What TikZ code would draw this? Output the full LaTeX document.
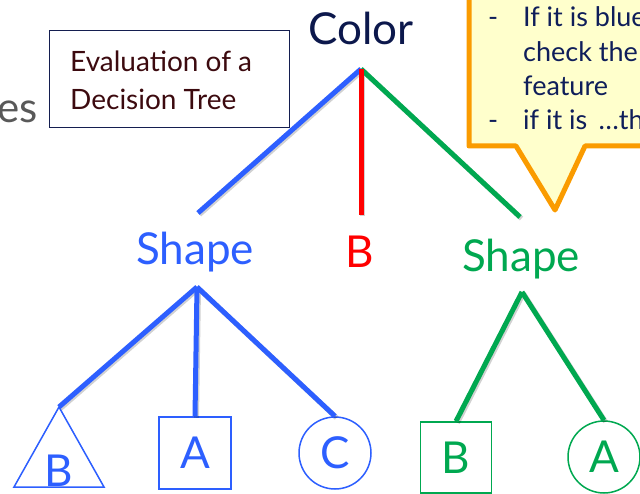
\documentclass[tikz,border=0pt]{standalone}
\usepackage{fontspec}
\setmainfont{Lato}
\definecolor{cnavy}{RGB}{12,24,76}
\definecolor{cblue}{RGB}{45,95,255}
\definecolor{cred}{RGB}{255,0,0}
\definecolor{cgreen}{RGB}{0,168,80}
\definecolor{corange}{RGB}{250,155,0}
\definecolor{cyellow}{RGB}{255,255,204}
\definecolor{cboxline}{RGB}{20,30,80}
\definecolor{cmaroon}{RGB}{60,10,15}
\definecolor{ctext}{RGB}{15,30,90}
\definecolor{cgray}{RGB}{89,89,89}
\begin{document}
\begin{tikzpicture}[x=1pt,y=-1pt,
  big/.style={inner sep=0pt, anchor=base, font=\fontsize{44}{50}\selectfont},
  leafsq/.style={draw, line width=1.5pt, inner sep=0pt, minimum size=72pt, font=\fontsize{44}{50}\selectfont},
  leafci/.style={circle, draw, line width=1.5pt, inner sep=0pt, minimum size=72pt, font=\fontsize{44}{50}\selectfont},
  edge/.style={line width=5pt},
  shd/.style={line width=5pt, draw=black, opacity=0.18, transform canvas={shift={(1.5pt,-1.5pt)}}},
  note/.style={inner sep=0pt, anchor=base west, text=ctext, font=\fontsize{27}{32}\selectfont},
]
\useasboundingbox (0,0) rectangle (640,494);
\clip (0,0) rectangle (640,494);

% left fragment
\node[inner sep=0pt, anchor=base east, text=cgray, font=\fontsize{42}{50}\selectfont] (es) at (38,123) {es};

% title box
\node[draw=cboxline, line width=1pt, minimum width=240pt, minimum height=97pt, inner sep=0pt] (evalbox) at (169,79.5) {};
\node[inner sep=0pt, anchor=base west, text=cmaroon, font=\fontsize{28}{34}\selectfont] (eval1) at (70,72) {Evaluation of a};
\node[inner sep=0pt, anchor=base west, text=cmaroon, font=\fontsize{28}{34}\selectfont] (eval2) at (70,110) {Decision Tree};

% callout
\draw[line width=5pt, draw=corange, fill=cyellow, line join=round] (469,-20) -- (469,146) -- (516,146) -- (555,210) -- (585,146) -- (660,146) -- (660,-20) -- cycle;
\node[note] (d1) at (488,27) {-};
\node[note] (n1) at (523,27) {If it is blue, then};
\node[note] (n2) at (523,61.5) {check the shape};
\node[note] (n3) at (523,96) {feature};
\node[note] (d2) at (488,130) {-};
\node[note] (n4) at (523,130) {if it is \,\dots then};

% tree labels
\node[big, text=cnavy] (color) at (361,45) {Color};
\node[big, text=cblue] (shapeB) at (195,265) {Shape};
\node[big, text=cred] (redB) at (360,268) {B};
\node[big, text=cgreen] (shapeG) at (521,272) {Shape};

\coordinate (cj) at (361,69);
\coordinate (bsT) at (198,213);
\coordinate (rB) at (361,215);
\coordinate (gsT) at (520,217);
\coordinate (bsB) at (197,287);
\coordinate (gsB) at (522,292);
\coordinate (tri) at (59,407);

% leaves
\draw[cblue, line width=1.5pt, line join=miter] (tri) -- (14,487) -- (104,487) -- cycle;
\node[big, text=cblue] (triB) at (59,486) {B};
\node[leafsq, draw=cblue, text=cblue] (bsq) at (195,453) {A};
\node[leafci, draw=cblue, text=cblue] (bc) at (335,453) {C};
\node[leafsq, draw=cgreen, text=cgreen, minimum size=71pt] (gsq) at (456,457.5) {B};
\node[leafci, draw=cgreen, text=cgreen] (gc) at (604,457) {A};

% shadows
\foreach \a/\b in {cj/bsT, cj/rB, cj/gsT, bsB/tri, bsB/bsq.north, bsB/bc.north, gsB/gsq.north, gsB/gc.north}
  \draw[shd] (\a) -- (\b);

% edges
\draw[edge, cblue] (cj) -- (bsT);
\draw[edge, cgreen] (cj) -- (gsT);
\draw[edge, cred] (cj) -- (rB);
\draw[edge, cblue] (bsB) -- (tri);
\draw[edge, cblue] (bsB) -- (bsq.north);
\draw[edge, cblue] (bsB) -- (bc.north);
\draw[edge, cgreen] (gsB) -- (gsq.north);
\draw[edge, cgreen] (gsB) -- (gc.north);
\end{tikzpicture}
\end{document}
